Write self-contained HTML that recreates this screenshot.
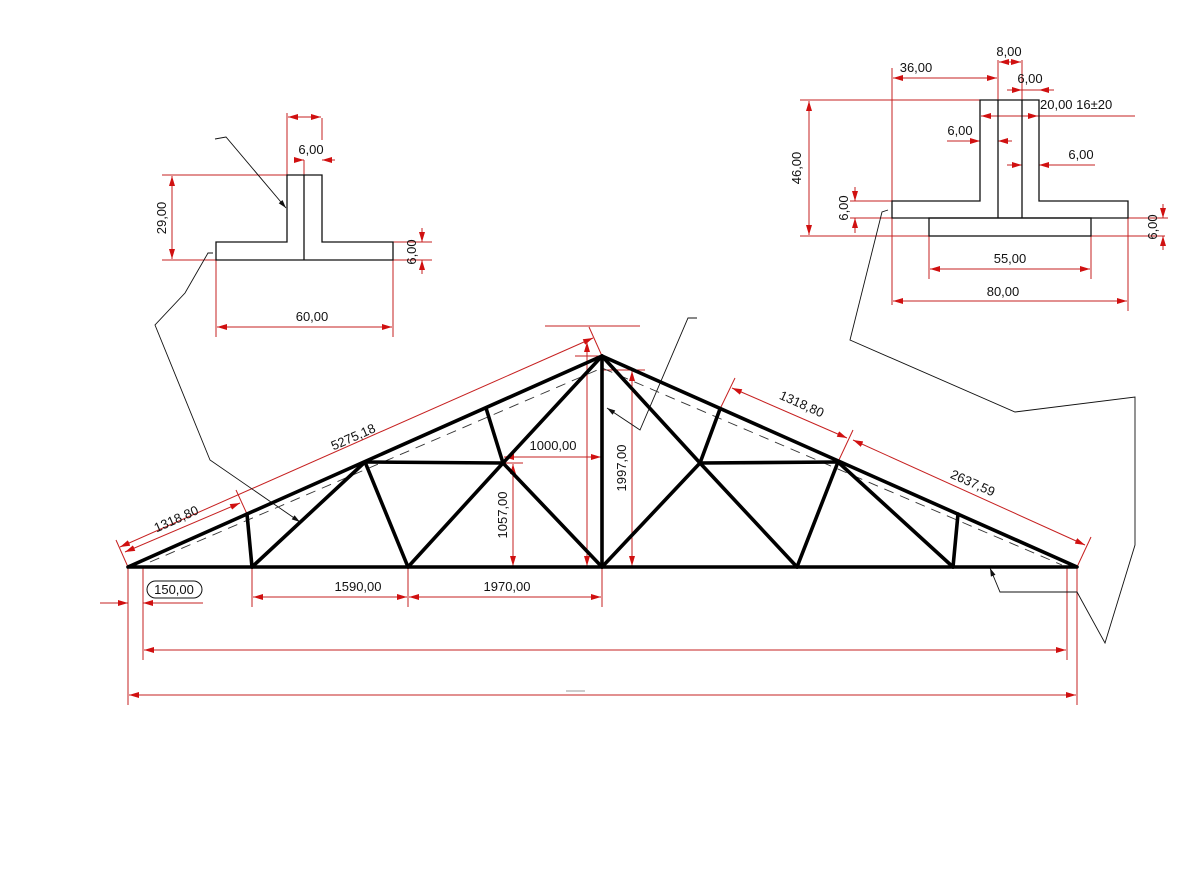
<!DOCTYPE html>
<html><head><meta charset="utf-8"><style>body{margin:0;background:#fff}svg{display:block}text{font-family:"Liberation Sans",sans-serif;font-size:13px;fill:#111}</style></head><body>
<svg width="1200" height="878" viewBox="0 0 1200 878" xmlns="http://www.w3.org/2000/svg">
<defs>
<marker id="a" viewBox="0 0 10 6" refX="10" refY="3" markerWidth="10" markerHeight="6" orient="auto-start-reverse" markerUnits="userSpaceOnUse"><path d="M0,0L10,3L0,6z" fill="#d01010"/></marker>
<marker id="k" viewBox="0 0 10 6" refX="10" refY="3" markerWidth="9" markerHeight="5" orient="auto" markerUnits="userSpaceOnUse"><path d="M0,0L10,3L0,6z" fill="#111"/></marker>
</defs>
<g stroke="#c62020" stroke-width="1" fill="none">
<line x1="162" y1="175" x2="322" y2="175"/><line x1="162" y1="260" x2="216" y2="260"/>
<line x1="172" y1="176" x2="172" y2="259" marker-start="url(#a)" marker-end="url(#a)"/>
<line x1="216" y1="260" x2="216" y2="337"/><line x1="393" y1="260" x2="393" y2="337"/>
<line x1="217" y1="327" x2="392" y2="327" marker-start="url(#a)" marker-end="url(#a)"/>
<line x1="287" y1="113" x2="287" y2="175"/><line x1="322" y1="118" x2="322" y2="140"/>
<line x1="288" y1="117" x2="321" y2="117" marker-start="url(#a)" marker-end="url(#a)"/>
<line x1="297" y1="160" x2="304" y2="160" marker-end="url(#a)"/><line x1="335" y1="160" x2="322" y2="160" marker-end="url(#a)"/>
<line x1="304" y1="160" x2="304" y2="175"/>
<line x1="393" y1="242" x2="432" y2="242"/><line x1="393" y1="260" x2="432" y2="260"/>
<line x1="422" y1="228" x2="422" y2="242" marker-end="url(#a)"/><line x1="422" y1="274" x2="422" y2="260" marker-end="url(#a)"/>
<line x1="800" y1="100" x2="980" y2="100"/><line x1="800" y1="236" x2="929" y2="236"/><line x1="1091" y1="236" x2="1165" y2="236"/>
<line x1="809" y1="101" x2="809" y2="235" marker-start="url(#a)" marker-end="url(#a)"/>
<line x1="892" y1="68" x2="892" y2="305"/><line x1="998" y1="60" x2="998" y2="100"/><line x1="1022" y1="60" x2="1022" y2="100"/>
<line x1="893" y1="78" x2="997" y2="78" marker-start="url(#a)" marker-end="url(#a)"/>
<line x1="999" y1="62" x2="1021" y2="62" marker-start="url(#a)" marker-end="url(#a)"/>
<line x1="1007" y1="90" x2="1022" y2="90" marker-end="url(#a)"/><line x1="1054" y1="90" x2="1039" y2="90" marker-end="url(#a)"/><line x1="1022" y1="90" x2="1039" y2="90"/>
<line x1="981" y1="116" x2="1038" y2="116" marker-start="url(#a)" marker-end="url(#a)"/><line x1="1038" y1="116" x2="1135" y2="116"/>
<line x1="947" y1="141" x2="980" y2="141" marker-end="url(#a)"/><line x1="1012" y1="141" x2="998" y2="141" marker-end="url(#a)"/>
<line x1="1007" y1="165" x2="1022" y2="165" marker-end="url(#a)"/><line x1="1095" y1="165" x2="1039" y2="165" marker-end="url(#a)"/>
<line x1="850" y1="201" x2="892" y2="201"/><line x1="850" y1="218" x2="892" y2="218"/>
<line x1="855" y1="187" x2="855" y2="201" marker-end="url(#a)"/><line x1="855" y1="233" x2="855" y2="218" marker-end="url(#a)"/>
<line x1="1091" y1="218" x2="1168" y2="218"/>
<line x1="1163" y1="204" x2="1163" y2="218" marker-end="url(#a)"/><line x1="1163" y1="250" x2="1163" y2="236" marker-end="url(#a)"/>
<line x1="929" y1="236" x2="929" y2="279"/><line x1="1091" y1="236" x2="1091" y2="279"/><line x1="1128" y1="218" x2="1128" y2="311"/>
<line x1="930" y1="269" x2="1090" y2="269" marker-start="url(#a)" marker-end="url(#a)"/>
<line x1="893" y1="301" x2="1127" y2="301" marker-start="url(#a)" marker-end="url(#a)"/>
<line x1="128" y1="567" x2="116" y2="540"/><line x1="247" y1="514" x2="236" y2="490"/><line x1="602" y1="356" x2="589" y2="327"/>
<line x1="120" y1="547" x2="593" y2="338" marker-start="url(#a)" marker-end="url(#a)"/>
<line x1="125" y1="552" x2="240" y2="503" marker-start="url(#a)" marker-end="url(#a)"/>
<line x1="545" y1="326" x2="640" y2="326"/>
<line x1="587" y1="342" x2="587" y2="566" marker-start="url(#a)" marker-end="url(#a)"/>
<line x1="575" y1="356" x2="602" y2="356"/><line x1="602" y1="370" x2="645" y2="370"/>
<line x1="632" y1="371" x2="632" y2="566" marker-start="url(#a)" marker-end="url(#a)"/>
<line x1="504" y1="457" x2="601" y2="457" marker-start="url(#a)" marker-end="url(#a)"/>
<line x1="503" y1="463" x2="523" y2="463"/>
<line x1="513" y1="464" x2="513" y2="566" marker-start="url(#a)" marker-end="url(#a)"/>
<line x1="720" y1="409" x2="735" y2="378"/><line x1="838" y1="462" x2="853" y2="430"/><line x1="1077" y1="567" x2="1091" y2="537"/>
<line x1="732" y1="388" x2="847" y2="438" marker-start="url(#a)" marker-end="url(#a)"/>
<line x1="853" y1="440" x2="1085" y2="545" marker-start="url(#a)" marker-end="url(#a)"/>
<line x1="128" y1="567" x2="128" y2="705"/><line x1="143" y1="567" x2="143" y2="660"/>
<line x1="252" y1="567" x2="252" y2="607"/><line x1="408" y1="567" x2="408" y2="607"/><line x1="602" y1="567" x2="602" y2="607"/>
<line x1="1067" y1="567" x2="1067" y2="660"/><line x1="1077" y1="567" x2="1077" y2="705"/>
<line x1="100" y1="603" x2="128" y2="603" marker-end="url(#a)"/><line x1="203" y1="603" x2="143" y2="603" marker-end="url(#a)"/>
<line x1="253" y1="597" x2="407" y2="597" marker-start="url(#a)" marker-end="url(#a)"/>
<line x1="409" y1="597" x2="601" y2="597" marker-start="url(#a)" marker-end="url(#a)"/>
<line x1="144" y1="650" x2="1066" y2="650" marker-start="url(#a)" marker-end="url(#a)"/>
<line x1="129" y1="695" x2="1076" y2="695" marker-start="url(#a)" marker-end="url(#a)"/>
</g>
<g stroke="#111" stroke-width="1.3" fill="none">
<path d="M216,242H287V175H322V242H393V260H216Z"/><line x1="304" y1="175" x2="304" y2="260"/>
<path d="M892,201H980V100H1039V201H1128V218H892Z"/><line x1="998" y1="100" x2="998" y2="218"/><line x1="1022" y1="100" x2="1022" y2="218"/>
<rect x="929" y="218" width="162" height="18"/>
</g>
<g stroke="#111" stroke-width="0.9" fill="none">
<polyline points="215,139 226,137 286,208" marker-end="url(#k)"/>
<polyline points="213,253 208,253 185,293 155,325 210,460 300,522" marker-end="url(#k)"/>
<polyline points="888,210 882,212 850,340 1015,412 1135,397 1135,545 1105,643 1077,592 1000,592 990,568" marker-end="url(#k)"/>
<polyline points="697,318 688,318 640,430 607,408" marker-end="url(#k)"/>
</g>
<polyline points="150,562 602,368 1062,565" stroke="#333" stroke-width="0.9" fill="none" stroke-dasharray="10,7"/>
<g stroke="#000" stroke-width="3.6" stroke-linecap="round" stroke-linejoin="round" fill="none">
<polyline points="128,567 602,356 1077,567 128,567"/>
<line x1="247" y1="514" x2="252" y2="567"/><line x1="252" y1="567" x2="365" y2="462"/>
<line x1="365" y1="462" x2="503" y2="463"/><line x1="365" y1="462" x2="408" y2="567"/>
<line x1="408" y1="567" x2="503" y2="463"/><line x1="503" y1="463" x2="486" y2="408"/>
<line x1="503" y1="463" x2="602" y2="356"/><line x1="503" y1="463" x2="602" y2="567"/>
<line x1="602" y1="356" x2="602" y2="567"/>
<line x1="602" y1="356" x2="700" y2="463"/><line x1="700" y1="463" x2="720" y2="409"/>
<line x1="700" y1="463" x2="838" y2="462"/><line x1="602" y1="567" x2="700" y2="463"/>
<line x1="700" y1="463" x2="797" y2="567"/><line x1="797" y1="567" x2="838" y2="462"/>
<line x1="838" y1="462" x2="953" y2="567"/><line x1="953" y1="567" x2="958" y2="514"/>
</g>
<text x="311" y="154" text-anchor="middle">6,00</text>
<text x="312" y="321" text-anchor="middle">60,00</text>
<text transform="translate(166,218) rotate(-90)" text-anchor="middle">29,00</text>
<text transform="translate(416,252) rotate(-90)" text-anchor="middle">6,00</text>
<text x="916" y="72" text-anchor="middle">36,00</text>
<text x="1009" y="56" text-anchor="middle">8,00</text>
<text x="1030" y="83" text-anchor="middle">6,00</text>
<text x="1040" y="109">20,00 16±20</text>
<text x="960" y="135" text-anchor="middle">6,00</text>
<text x="1081" y="159" text-anchor="middle">6,00</text>
<text transform="translate(801,168) rotate(-90)" text-anchor="middle">46,00</text>
<text transform="translate(848,208) rotate(-90)" text-anchor="middle">6,00</text>
<text transform="translate(1157,227) rotate(-90)" text-anchor="middle">6,00</text>
<text x="1010" y="263" text-anchor="middle">55,00</text>
<text x="1003" y="296" text-anchor="middle">80,00</text>
<text transform="translate(178,523) rotate(-24)" text-anchor="middle">1318,80</text>
<text transform="translate(355,441) rotate(-24)" text-anchor="middle">5275,18</text>
<text x="553" y="450" text-anchor="middle">1000,00</text>
<text transform="translate(507,515) rotate(-90)" text-anchor="middle">1057,00</text>
<text transform="translate(626,468) rotate(-90)" text-anchor="middle">1997,00</text>
<text transform="translate(800,408) rotate(24)" text-anchor="middle">1318,80</text>
<text transform="translate(971,487) rotate(24)" text-anchor="middle">2637,59</text>
<rect x="147" y="581" width="55" height="17" rx="8.5" fill="none" stroke="#111" stroke-width="1"/>
<text x="174" y="594" text-anchor="middle">150,00</text>
<text x="358" y="591" text-anchor="middle">1590,00</text>
<text x="507" y="591" text-anchor="middle">1970,00</text>
<line x1="566" y1="691" x2="585" y2="691" stroke="#ccc" stroke-width="2"/>
</svg>
</body></html>
